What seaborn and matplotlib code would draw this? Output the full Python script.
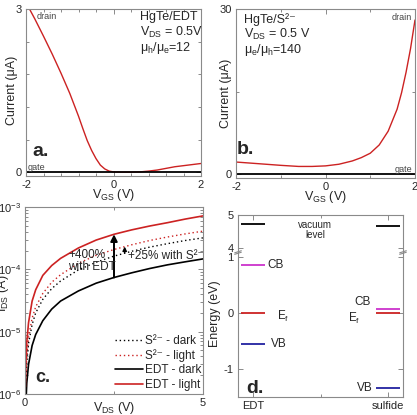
import numpy as np
import pandas as pd
import matplotlib
matplotlib.use("Agg")
import matplotlib.pyplot as plt
import seaborn as sns
from matplotlib.ticker import FixedLocator, MultipleLocator, LogLocator, NullFormatter, FuncFormatter

# === data ===
# a. HgTe/EDT transfer curve, Current in uA
vgs_a = [-2.0, -1.8, -1.6, -1.4, -1.2, -1.0, -0.8, -0.7, -0.6, -0.5, -0.4, -0.3,
         -0.2, -0.1, 0.0, 0.2, 0.4, 0.6, 0.8, 1.0, 1.2, 1.4, 1.6, 1.8, 2.0]
drain_a = [3.12, 2.82, 2.50, 2.17, 1.82, 1.45, 1.03, 0.80, 0.58, 0.40, 0.25, 0.13,
           0.06, 0.02, 0.005, 0.0, 0.0, 0.005, 0.02, 0.04, 0.07, 0.10, 0.12, 0.14, 0.16]
gate_v = [-2.0, 2.0]
gate_a = [0.0, 0.0]

# b. HgTe/S2- transfer curve
vgs_b = [-2.0, -1.5, -1.0, -0.6, -0.3, 0.0, 0.3, 0.6, 0.8, 1.0, 1.2, 1.4, 1.6,
         1.7, 1.8, 1.9, 2.0]
drain_b = [2.2, 1.9, 1.6, 1.4, 1.4, 1.5, 1.8, 2.4, 3.0, 3.8, 5.3, 7.8, 11.8,
           14.8, 18.5, 22.8, 28.0]
gate_b = [0.0, 0.0]

# c. I-V curves (A)
vds = [0.01, 0.02, 0.05, 0.1, 0.2, 0.3, 0.5, 0.75, 1.0, 1.5, 2.0, 2.5, 3.0, 3.5, 4.0, 4.5, 5.0]
s_dark = [6.5e-7, 1.3e-6, 3.2e-6, 6.5e-6, 1.3e-5, 2.0e-5, 3.3e-5, 4.9e-5, 6.5e-5, 9.8e-5,
          1.3e-4, 1.63e-4, 1.95e-4, 2.27e-4, 2.58e-4, 2.9e-4, 3.2e-4]
s_light = [8e-7, 1.6e-6, 4.0e-6, 8.2e-6, 1.65e-5, 2.5e-5, 4.1e-5, 6.2e-5, 8.2e-5, 1.25e-4,
           1.68e-4, 2.08e-4, 2.48e-4, 2.9e-4, 3.3e-4, 3.7e-4, 4.1e-4]
edt_dark = [3e-7, 6e-7, 1.5e-6, 3.0e-6, 6.0e-6, 9.0e-6, 1.5e-5, 2.3e-5, 3.1e-5, 4.5e-5,
            6.0e-5, 7.4e-5, 8.8e-5, 1.03e-4, 1.18e-4, 1.32e-4, 1.47e-4]
edt_light = [1.3e-6, 2.7e-6, 6.8e-6, 1.4e-5, 3.1e-5, 4.7e-5, 8.0e-5, 1.15e-4, 1.5e-4, 2.2e-4,
             2.95e-4, 3.65e-4, 4.3e-4, 4.95e-4, 5.6e-4, 6.4e-4, 7.2e-4]

# d. energy levels (eV)
materials = ["EDT", "sulfide"]
cb = [0.86, 0.08]
ef = [0.0, 0.0]
vb = [-0.55, -1.34]
vac = [4.73, 4.66]

RED = "#cc2222"
MAG = "#cc33cc"
BLUE = "#2222a0"
SPINE = "#8a8a8a"
S2 = "S\u00b2\u207b"

sns.set_style("ticks")
plt.rcParams["font.family"] = ["Liberation Sans", "DejaVu Sans"]
plt.rcParams["mathtext.default"] = "regular"
plt.rcParams["axes.unicode_minus"] = False

W, H = 417, 415
fig = plt.figure(figsize=(W / 100, H / 100), dpi=100)


def box(l, r, t, b):
    return [l / W, 1 - b / H, (r - l) / W, (b - t) / H]


ax_a = fig.add_axes(box(26, 201, 9, 176))
ax_b = fig.add_axes(box(236, 415, 9, 178))
ax_c = fig.add_axes(box(25, 203, 207, 394))
ax_d = fig.add_axes(box(238, 403, 215, 397))

for ax in (ax_a, ax_b, ax_c, ax_d):
    for s in ax.spines.values():
        s.set_color(SPINE)
        s.set_linewidth(0.8)
    ax.tick_params(which="both", direction="in", top=True, right=True,
                   color=SPINE, labelsize=8, pad=3, width=0.7)
    ax.tick_params(which="major", length=3.5)
    ax.tick_params(which="minor", length=2)

# === a. ===
sns.lineplot(x=vgs_a, y=drain_a, ax=ax_a, color=RED, lw=1.0)
sns.lineplot(x=gate_v, y=gate_a, ax=ax_a, color="black", lw=1.3)
ax_a.set_xlim(-2, 2)
ax_a.set_ylim(-0.07, 3)
ax_a.xaxis.set_major_locator(FixedLocator([-2, 0, 2]))
ax_a.xaxis.set_minor_locator(MultipleLocator(0.4))
ax_a.yaxis.set_major_locator(FixedLocator([0, 3]))
ax_a.yaxis.set_minor_locator(MultipleLocator(0.6))
ax_a.set_xlabel("V$_{GS}$ (V)", fontsize=9)
ax_a.set_ylabel("Current (μA)", fontsize=9)
ax_a.xaxis.set_label_coords(0.5, -0.066)
ax_a.yaxis.set_label_coords(-0.046, 0.51)
ax_a.text(0.063, 0.958, "drain", transform=ax_a.transAxes, fontsize=6.5, color="#444", va="center")
ax_a.text(0.011, 0.05, "gate", transform=ax_a.transAxes, fontsize=6.5, color="#444", va="center")
ax_a.text(0.651, 0.952, "HgTe/EDT", transform=ax_a.transAxes, fontsize=9, va="center")
ax_a.text(0.651, 0.862, "V$_{DS}$ = 0.5V", transform=ax_a.transAxes, fontsize=9, va="center")
ax_a.text(0.651, 0.766, "μ$_h$/μ$_e$=12", transform=ax_a.transAxes, fontsize=9, va="center")
ax_a.text(0.034, 0.144, "a.", transform=ax_a.transAxes, fontsize=14, fontweight="bold", va="center")

# === b. ===
sns.lineplot(x=vgs_b, y=drain_b, ax=ax_b, color=RED, lw=1.0)
sns.lineplot(x=gate_v, y=gate_b, ax=ax_b, color="black", lw=1.3)
ax_b.set_xlim(-2, 2)
ax_b.set_ylim(-0.7, 30)
ax_b.xaxis.set_major_locator(FixedLocator([-2, 0, 2]))
ax_b.xaxis.set_minor_locator(FixedLocator([-1, 1]))
ax_b.yaxis.set_major_locator(FixedLocator([0, 30]))
ax_b.yaxis.set_minor_locator(FixedLocator([15]))
ax_b.set_xlabel("V$_{GS}$ (V)", fontsize=9)
ax_b.set_ylabel("Current (μA)", fontsize=9)
ax_b.xaxis.set_label_coords(0.5, -0.065)
ax_b.yaxis.set_label_coords(-0.025, 0.5)
ax_b.text(0.045, 0.935, "HgTe/" + S2, transform=ax_b.transAxes, fontsize=9, va="center")
ax_b.text(0.045, 0.852, "V$_{DS}$ = 0.5 V", transform=ax_b.transAxes, fontsize=9, va="center")
ax_b.text(0.045, 0.757, "μ$_e$/μ$_h$=140", transform=ax_b.transAxes, fontsize=9, va="center")
ax_b.text(0.983, 0.947, "drain", transform=ax_b.transAxes, fontsize=6.5, color="#444", va="center", ha="right")
ax_b.text(0.983, 0.05, "gate", transform=ax_b.transAxes, fontsize=6.5, color="#444", va="center", ha="right")
ax_b.text(0.006, 0.166, "b.", transform=ax_b.transAxes, fontsize=14, fontweight="bold", va="center")

# === c. ===
dot = (0, (1, 2))
sns.lineplot(x=vds, y=s_dark, ax=ax_c, color="black", lw=1.0, linestyle=dot, label=S2 + " - dark")
sns.lineplot(x=vds, y=s_light, ax=ax_c, color=RED, lw=1.0, linestyle=dot, label=S2 + " - light")
sns.lineplot(x=vds, y=edt_dark, ax=ax_c, color="black", lw=1.2, label="EDT - dark")
sns.lineplot(x=vds, y=edt_light, ax=ax_c, color=RED, lw=1.2, label="EDT - light")
ax_c.set_yscale("log")
ax_c.set_xlim(0, 5)
ax_c.set_ylim(1e-6, 1e-3)
ax_c.xaxis.set_major_locator(FixedLocator([0, 5]))
ax_c.xaxis.set_minor_locator(FixedLocator([2.5]))
ax_c.yaxis.set_major_locator(LogLocator(base=10, numticks=10))
ax_c.yaxis.set_minor_locator(LogLocator(base=10, subs=np.arange(2, 10), numticks=10))
ax_c.yaxis.set_minor_formatter(NullFormatter())
ax_c.set_xlabel("V$_{DS}$ (V)", fontsize=9)
ax_c.set_ylabel("I$_{DS}$ (A)", fontsize=9)
ax_c.xaxis.set_label_coords(0.5, -0.03)
ax_c.yaxis.set_label_coords(-0.081, 0.54)
i25 = vds.index(2.5)
ax_c.annotate("", xy=(2.5, edt_light[i25]), xytext=(2.5, edt_dark[i25]),
              arrowprops=dict(arrowstyle="-|>", color="black", lw=1.4, mutation_scale=10,
                              shrinkA=0, shrinkB=0))
xs = 2.8
ax_c.annotate("", xy=(xs, np.interp(xs, vds, s_light)), xytext=(xs, np.interp(xs, vds, s_dark)),
              arrowprops=dict(arrowstyle="-|>", color="black", lw=1.0, mutation_scale=6,
                              shrinkA=0, shrinkB=0))
ax_c.text(0.242, 0.743, "+400%", transform=ax_c.transAxes, fontsize=8.5, va="center")
ax_c.text(0.242, 0.679, "with EDT", transform=ax_c.transAxes, fontsize=8.5, va="center")
ax_c.text(0.579, 0.738, "+25% with " + S2, transform=ax_c.transAxes, fontsize=8.5, va="center")
ax_c.text(0.056, 0.086, "c.", transform=ax_c.transAxes, fontsize=13, fontweight="bold", va="center")
ax_c.legend(loc="lower right", bbox_to_anchor=(1.03, -0.02), frameon=False, fontsize=8.5,
            handlelength=2.3, handletextpad=0.2, labelspacing=0.2, borderaxespad=0.2)

# === d. ===


def fwd(e):
    e = np.asarray(e, dtype=float)
    return np.where(e <= 1, e, np.where(e >= 4, 1.16 + (e - 4) * 0.59, 1 + (e - 1) * 0.16 / 3))


def inv(y):
    y = np.asarray(y, dtype=float)
    return np.where(y <= 1, y, np.where(y >= 1.16, 4 + (y - 1.16) / 0.59, 1 + (y - 1) * 3 / 0.16))


ax_d.set_yscale("function", functions=(fwd, inv))
xpos = np.arange(len(materials))
hw = 0.09
ax_d.hlines(vac, xpos - hw, xpos + hw, color="black", lw=1.3)
ax_d.hlines(cb, xpos - hw, xpos + hw, color=MAG, lw=1.3)
ax_d.hlines(ef, xpos - hw, xpos + hw, color=RED, lw=1.3)
ax_d.hlines(vb, xpos - hw, xpos + hw, color=BLUE, lw=1.3)
ax_d.set_xlim(-0.11, 1.11)
ax_d.set_ylim(-1.5, 5)
ax_d.xaxis.set_major_locator(FixedLocator(list(xpos)))
ax_d.set_xticklabels(materials)
ax_d.xaxis.set_minor_locator(FixedLocator([0.5]))
ax_d.yaxis.set_major_locator(FixedLocator([-1, 0, 1, 4, 5]))
ax_d.yaxis.set_major_formatter(FuncFormatter(lambda v, p: f"{v:g}"))
ax_d.yaxis.set_minor_locator(FixedLocator([]))
ax_d.set_ylabel("Energy (eV)", fontsize=9)
ax_d.yaxis.set_label_coords(-0.106, 0.46)
# axis break marks
tr = ax_d.get_yaxis_transform()
for xb in (0.0, 1.0):
    for e0, e1 in ((1.9, 2.6), (2.4, 3.1)):
        ax_d.plot([xb - 0.02, xb + 0.02], [e0, e1], transform=tr, color=SPINE, lw=0.8, clip_on=False)
ax_d.text(0.467, 0.915, "vacuum\nlevel", transform=ax_d.transAxes, fontsize=7, ha="center",
          va="center", linespacing=1.0)
ax_d.text(0.11, cb[0], "CB", fontsize=8.5, va="center")
ax_d.text(0.18, -0.07, "E$_f$", fontsize=8.5, va="center")
ax_d.text(0.13, vb[0], "VB", fontsize=8.5, va="center")
ax_d.text(0.75, 0.2, "CB", fontsize=8.5, va="center")
ax_d.text(0.70, -0.09, "E$_f$", fontsize=8.5, va="center")
ax_d.text(0.77, vb[1], "VB", fontsize=8.5, va="center")
ax_d.text(-0.05, -1.34, "d.", fontsize=14, fontweight="bold", va="center")

fig.savefig("out.png", dpi=100)
